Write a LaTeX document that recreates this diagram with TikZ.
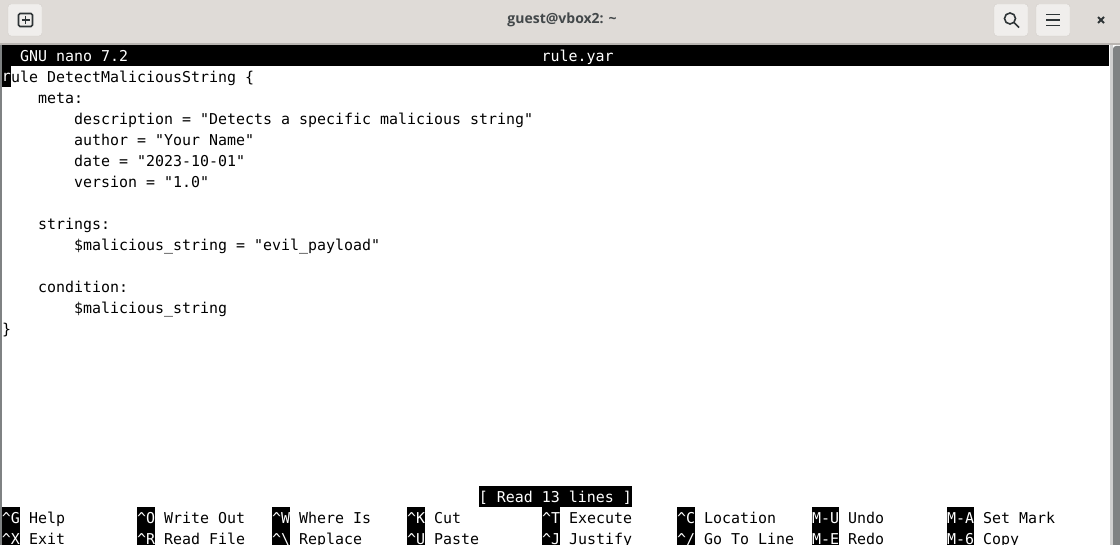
\documentclass[tikz,border=0pt]{standalone}
\usepackage{fontspec}
\usepackage{xcolor}
\usetikzlibrary{positioning,backgrounds}
\newfontfamily\termfont{DejaVu Sans Mono}
\newfontfamily\titlefont{Open Sans}
\definecolor{barbg}{HTML}{DFDBD7}
\definecolor{barline}{HTML}{B9B5B1}
\definecolor{btnbg}{HTML}{F0EEEC}
\definecolor{btnline}{HTML}{D3CFCB}
\definecolor{icondark}{HTML}{2E3436}
\definecolor{scrollgrey}{HTML}{7F8283}
\definecolor{troughgrey}{HTML}{D0D0D0}
\tikzset{
  termtxt/.style  = {anchor=base west, inner sep=0pt, font=\termfont\fontsize{14.95}{15}\selectfont, text=black},
  termrev/.style  = {rectangle, fill=black, text=white, inner sep=0pt, anchor=center,
                     font=\termfont\fontsize{14.95}{15}\selectfont, minimum height=21pt,
                     text height=11pt, text depth=0pt},
  keybox/.style   = {termrev, minimum width=18pt},
  headbtn/.style  = {rectangle, rounded corners=3pt, draw=btnline, fill=btnbg,
                     minimum width=34pt, minimum height=32pt, inner sep=0pt},
  iconline/.style = {draw=icondark, line width=1.6pt},
}
\begin{document}
\begin{tikzpicture}[x=1pt,y=-1pt]
  \useasboundingbox (0,0) rectangle (1120,545);
  \clip (0,0) rectangle (1120,545);
  \fill[white] (0,0) rectangle (1120,545);

  % window header
  \fill[barbg] (0,0) rectangle (1120,43);
  \fill[barline] (0,43) rectangle (1120,45);
  \fill[scrollgrey] (0,45) rectangle (2,545);
  \fill[troughgrey] (1110,45) rectangle (1113,545);
  \fill[scrollgrey, rounded corners=3pt] (1113,46) rectangle (1125,560);

  \node[headbtn] (newtab) at (25,20) {};
  \node[headbtn] (search) at (1011,20) {};
  \node[headbtn] (menu)   at (1053,20) {};
  \node[font=\titlefont\bfseries\fontsize{14}{14}\selectfont, text=icondark!90, inner sep=0pt] (wintitle) at (562,20) {guest@vbox2: \char`~};

  \draw[iconline, rounded corners=1.5pt] (18.5,13.5) rectangle (32.5,26.5);
  \draw[iconline] (25.5,16) -- (25.5,24) (21.5,20) -- (29.5,20);
  \draw[iconline] (1010,18.5) circle (5.5pt);
  \draw[iconline] (1014,22.5) -- (1019,27.5);
  \draw[iconline] (1046,14.5) -- (1060,14.5) (1046,20) -- (1060,20) (1046,25.5) -- (1060,25.5);
  \draw[iconline, line width=1.8pt] (1098,17) -- (1104,23) (1104,17) -- (1098,23);

  % nano title bar
  \fill[black] (2,45) rectangle (1109,66);
  \node[termtxt, text=white] (version) at (20,62) {GNU nano 7.2};
  \node[termtxt, text=white] (fname)   at (541.5,62) {rule.yar};

  % file
  \node[termrev, minimum width=9pt] (cursor) at (6.5,76.5) {r};
  \node[termtxt] (l1)  at (11,83)  {ule DetectMaliciousString \{};
  \node[termtxt] (l2)  at (38,104) {meta:};
  \node[termtxt] (l3)  at (74,125) {description = "Detects a specific malicious string"};
  \node[termtxt] (l4)  at (74,146) {author = "Your Name"};
  \node[termtxt] (l5)  at (74,167) {date = "2023-10-01"};
  \node[termtxt] (l6)  at (74,188) {version = "1.0"};
  \node[termtxt] (l8)  at (38,230) {strings:};
  \node[termtxt] (l9)  at (74,251) {\$malicious\_string = "evil\_payload"};
  \node[termtxt] (l11) at (38,293) {condition:};
  \node[termtxt] (l12) at (74,314) {\$malicious\_string};
  \node[termtxt] (l13) at (2,335)  {\}};

  % status line
  \node[termrev, minimum width=153pt] (status) at (555.5,496.5) {[ Read 13 lines ]};

  % shortcuts
  \node[keybox] (kg) at (11,517.5)  {\char`\^G};
  \node[keybox] (kx) at (11,538.5)  {\char`\^X};
  \node[keybox] (ko) at (146,517.5) {\char`\^O};
  \node[keybox] (kr) at (146,538.5) {\char`\^R};
  \node[keybox] (kw) at (281,517.5) {\char`\^W};
  \node[keybox] (kb) at (281,538.5) {\char`\^\char`\\};
  \node[keybox] (kk) at (416,517.5) {\char`\^K};
  \node[keybox] (ku) at (416,538.5) {\char`\^U};
  \node[keybox] (kt) at (551,517.5) {\char`\^T};
  \node[keybox] (kj) at (551,538.5) {\char`\^J};
  \node[keybox] (kc) at (686,517.5) {\char`\^C};
  \node[keybox] (ks) at (686,538.5) {\char`\^/};
  \node[keybox, minimum width=27pt] (mu) at (825.5,517.5) {M-U};
  \node[keybox, minimum width=27pt] (me) at (825.5,538.5) {M-E};
  \node[keybox, minimum width=27pt] (ma) at (960.5,517.5) {M-A};
  \node[keybox, minimum width=27pt] (m6) at (960.5,538.5) {M-6};

  \node[termtxt] (tg) at (29,523)  {Help};
  \node[termtxt] (tx) at (29,544)  {Exit};
  \node[termtxt] (to) at (164,523) {Write Out};
  \node[termtxt] (tr) at (164,544) {Read File};
  \node[termtxt] (tw) at (299,523) {Where Is};
  \node[termtxt] (tb) at (299,544) {Replace};
  \node[termtxt] (tk) at (434,523) {Cut};
  \node[termtxt] (tu) at (434,544) {Paste};
  \node[termtxt] (tt) at (569,523) {Execute};
  \node[termtxt] (tj) at (569,544) {Justify};
  \node[termtxt] (tc) at (704,523) {Location};
  \node[termtxt] (ts) at (704,544) {Go To Line};
  \node[termtxt] (tmu) at (848,523) {Undo};
  \node[termtxt] (tme) at (848,544) {Redo};
  \node[termtxt] (tma) at (983,523) {Set Mark};
  \node[termtxt] (tm6) at (983,544) {Copy};
\end{tikzpicture}
\end{document}
